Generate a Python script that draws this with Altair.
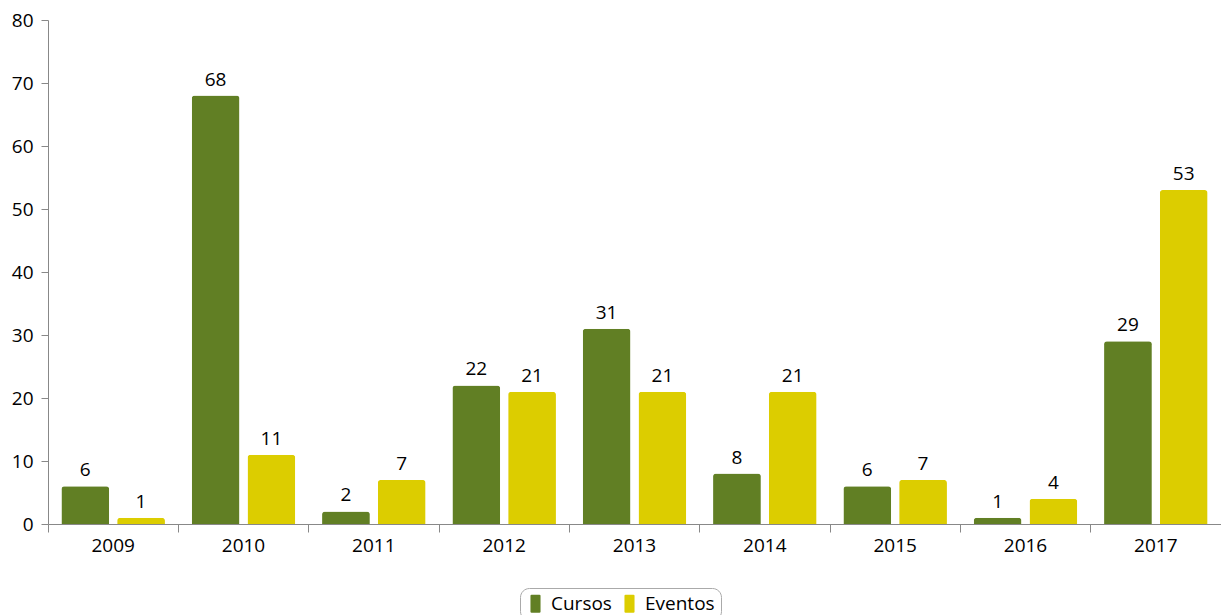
import altair as alt
import pandas as pd

years = ["2009", "2010", "2011", "2012", "2013", "2014", "2015", "2016", "2017"]
cursos = [6, 68, 2, 22, 31, 8, 6, 1, 29]
eventos = [1, 11, 7, 21, 21, 21, 7, 4, 53]
series = ["Cursos", "Eventos"]
colors = ["#617f24", "#dccd00"]

rows = []
for i, y in enumerate(years):
    rows.append({"year": y, "serie": series[0], "value": cursos[i]})
    rows.append({"year": y, "serie": series[1], "value": eventos[i]})
df = pd.DataFrame(rows)

FONT = "Open Sans"
FS = 19

x = alt.X("year:N", title=None, sort=years,
          scale=alt.Scale(paddingInner=0, paddingOuter=0),
          axis=alt.Axis(labelAngle=0, labelFontSize=FS, labelColor="#000",
                        labelFont=FONT, bandPosition=0, tickSize=8,
                        tickColor="#888", domainColor="#888", labelPadding=4,
                        labelBaseline="top"))
xo = alt.XOffset("serie:N", sort=series,
                 scale=alt.Scale(paddingInner=0.143, paddingOuter=0.24))
y = alt.Y("value:Q", title=None,
          scale=alt.Scale(domain=[0, 80], nice=False),
          axis=alt.Axis(values=list(range(0, 90, 10)), grid=False,
                        labelFontSize=FS, labelColor="#000", labelFont=FONT,
                        tickSize=7, tickColor="#888", domainColor="#888",
                        labelPadding=8))

color = alt.Color("serie:N", sort=series,
                  scale=alt.Scale(domain=series, range=colors),
                  legend=alt.Legend(title=None, orient="none", legendX=472, legendY=568,
                                    direction="horizontal", labelFontSize=FS,
                                    labelFont=FONT, labelColor="#000",
                                    symbolType="M-0.56,-0.88 Q-0.56,-1 -0.44,-1 L0.44,-1 Q0.56,-1 0.56,-0.88 L0.56,0.88 Q0.56,1 0.44,1 L-0.44,1 Q-0.56,1 -0.56,0.88 Z",
                                    symbolSize=324, symbolStrokeWidth=0,
                                    symbolOpacity=1,
                                    strokeColor="#aaa", cornerRadius=9, padding=6,
                                    columnPadding=8, labelOffset=6))

bars = alt.Chart(df).mark_bar(cornerRadiusTopLeft=3, cornerRadiusTopRight=3).encode(
    x=x, xOffset=xo, y=y, color=color
)

text = alt.Chart(df).mark_text(baseline="bottom", dy=-6, fontSize=FS, font=FONT,
                               color="#000").encode(
    x=alt.X("year:N", sort=years), xOffset=alt.XOffset("serie:N", sort=series),
    y="value:Q", text="value:Q"
)

chart = (bars + text).properties(
    width=1173, height=504,
    autosize=alt.AutoSizeParams(type="none"),
    padding={"left": 40, "top": 12, "right": 0, "bottom": 110},
).configure(font=FONT).configure_view(strokeWidth=0, stroke="transparent")

chart.save("out.html", embed_options={"renderer": "svg", "actions": False})
